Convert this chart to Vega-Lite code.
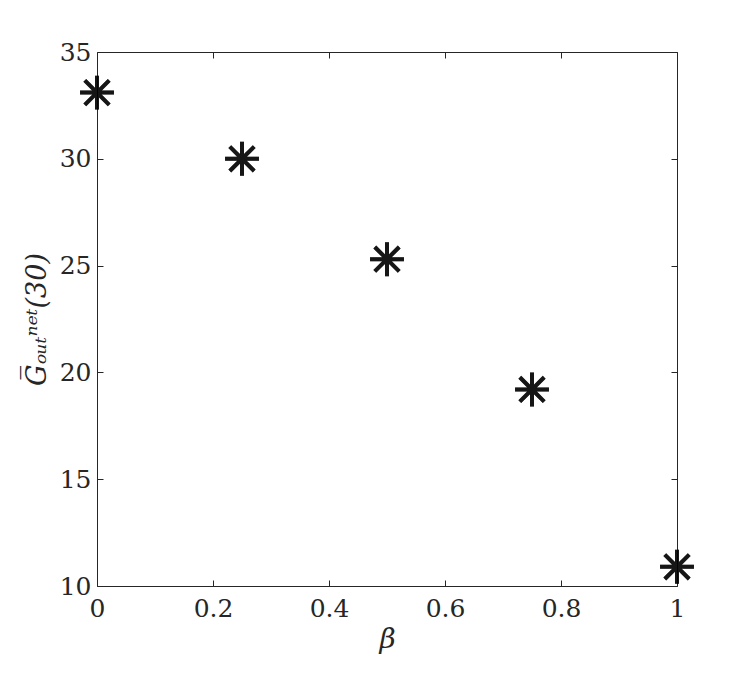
{
  "$schema": "https://vega.github.io/schema/vega-lite/v6.json",
  "width": 580,
  "height": 534,
  "autosize": {"type": "none"},
  "padding": {"left": 97, "top": 52, "right": 70, "bottom": 88},
  "background": "white",
  "config": {
    "view": {"stroke": null},
    "axis": {
      "grid": false,
      "domainColor": "#262626",
      "domainWidth": 1,
      "tickColor": "#262626",
      "tickWidth": 1,
      "tickSize": -6,
      "labelFlush": false,
      "format": "~g",
      "labelFont": "DejaVu Serif",
      "labelFontSize": 25,
      "labelColor": "#262626",
      "titleFont": "DejaVu Serif",
      "titleColor": "#262626",
      "titleFontWeight": "normal"
    }
  },
  "data": {
    "values": [
      {"beta": 0, "g": 33.1},
      {"beta": 0.25, "g": 30.0},
      {"beta": 0.5, "g": 25.3},
      {"beta": 0.75, "g": 19.2},
      {"beta": 1, "g": 10.9}
    ]
  },
  "layer": [
    {
      "mark": {
        "type": "point",
        "shape": "M0,-1L0,1M-1,0L1,0M-0.72,-0.72L0.72,0.72M-0.72,0.72L0.72,-0.72",
        "filled": false,
        "stroke": "black",
        "strokeWidth": 4,
        "size": 1150,
        "clip": false
      },
      "encoding": {
        "x": {
          "field": "beta", "type": "quantitative",
          "scale": {"domain": [0, 1], "nice": false, "zero": false},
          "axis": {"orient": "bottom", "values": [0, 0.2, 0.4, 0.6, 0.8, 1], "labelPadding": 16, "title": "β", "titleFontStyle": "italic", "titleFontSize": 28, "titlePadding": 4, "titleFont": "DejaVu Serif"}
        },
        "y": {
          "field": "g", "type": "quantitative",
          "scale": {"domain": [10, 35], "nice": false, "zero": false},
          "axis": {"orient": "left", "values": [10, 15, 20, 25, 30, 35], "labelPadding": 12, "title": "G̅ₒᵤₜⁿᵉᵗ(30)", "titleFontSize": 27, "titlePadding": 8, "titleFontStyle": "italic"}
        }
      }
    },
    {
      "mark": {
        "type": "point",
        "shape": "M0,-1L0,1M-1,0L1,0M-0.72,-0.72L0.72,0.72M-0.72,0.72L0.72,-0.72",
        "filled": false,
        "stroke": "black",
        "strokeWidth": 4,
        "size": 1150,
        "clip": false
      },
      "encoding": {
        "x": {
          "field": "beta", "type": "quantitative",
          "scale": {"domain": [0, 1], "nice": false, "zero": false},
          "axis": {"orient": "top", "values": [0, 0.2, 0.4, 0.6, 0.8, 1], "labels": false, "title": null}
        },
        "y": {
          "field": "g", "type": "quantitative",
          "scale": {"domain": [10, 35], "nice": false, "zero": false},
          "axis": {"orient": "right", "values": [10, 15, 20, 25, 30, 35], "labels": false, "title": null}
        }
      }
    }
  ],
  "resolve": {"axis": {"x": "independent", "y": "independent"}}
}
